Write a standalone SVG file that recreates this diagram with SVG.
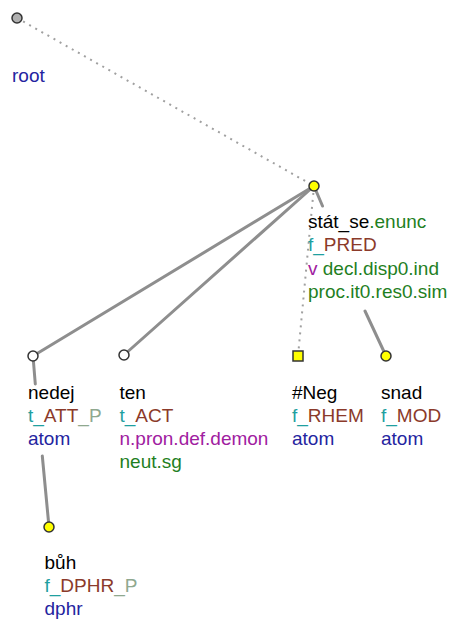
<svg xmlns="http://www.w3.org/2000/svg" width="449" height="621" viewBox="0 0 449 621">
<style>
text{font-family:"Liberation Sans",Arial,sans-serif;font-size:19px}
.edge{stroke:#8e8e8e;stroke-width:3;fill:none;stroke-linecap:round}
.dot{stroke:#a0a0a0;stroke-width:2;fill:none;stroke-dasharray:2 5}
.nd{stroke:#333;stroke-width:1.5}
.lem{fill:#000}
.tp{fill:#1fa0a0}
.fn{fill:#8b3a2a}
.pp{fill:#8fa88f}
.nt{fill:#2424a0}
.pu{fill:#a020a0}
.gr{fill:#1f7f1f}
</style>
<rect width="449" height="621" fill="#fff"/>
<g id="connectors">
<line class="dot" x1="17" y1="18" x2="314" y2="186"/>
<line class="dot" x1="314" y1="186" x2="298" y2="356"/>
<line class="edge" x1="314" y1="186" x2="33" y2="356"/>
<line class="edge" x1="314" y1="186" x2="124" y2="355"/>
<path class="edge" d="M314 186 L322.5 206 M365 311 L386 356"/>
<path class="edge" d="M33 356 L35.3 384 M42.3 456 L49 527"/>
</g>
<g id="root">
<circle class="nd" cx="17" cy="18" r="5" fill="#b0b0b0"/>
<text x="12" y="82" class="nt">root</text>
</g>
<g id="stat_se">
<circle class="nd" cx="314" cy="186" r="5" fill="#ffff00"/>
<text x="308" y="227.5"><tspan class="lem">stát_se</tspan><tspan class="gr">.enunc</tspan></text>
<text x="308" y="251"><tspan class="tp">f_</tspan><tspan class="fn">PRED</tspan></text>
<text x="308" y="274.5"><tspan class="pu">v</tspan><tspan class="gr"> decl.disp0.ind</tspan></text>
<text x="308" y="298" class="gr">proc.it0.res0.sim</text>
</g>
<g id="nedej">
<circle class="nd" cx="33" cy="356" r="5" fill="#fff"/>
<text x="28" y="398.5" class="lem">nedej</text>
<text x="28" y="421.8"><tspan class="tp">t_</tspan><tspan class="fn">ATT</tspan><tspan class="pp">_P</tspan></text>
<text x="28" y="445.1" class="nt">atom</text>
</g>
<g id="ten">
<circle class="nd" cx="124" cy="355" r="5" fill="#fff"/>
<text x="119.5" y="398.5" class="lem">ten</text>
<text x="119.5" y="421.8"><tspan class="tp">t_</tspan><tspan class="fn">ACT</tspan></text>
<text x="119.5" y="445.1" class="pu">n.pron.def.demon</text>
<text x="119.5" y="468.4" class="gr">neut.sg</text>
</g>
<g id="neg">
<rect class="nd" x="293" y="351" width="10" height="10" fill="#ffff00"/>
<text x="292" y="398.5" class="lem">#Neg</text>
<text x="292" y="421.8"><tspan class="tp">f_</tspan><tspan class="fn">RHEM</tspan></text>
<text x="292" y="445.1" class="nt">atom</text>
</g>
<g id="snad">
<circle class="nd" cx="386" cy="356" r="5" fill="#ffff00"/>
<text x="381" y="398.5" class="lem">snad</text>
<text x="381" y="421.8"><tspan class="tp">f_</tspan><tspan class="fn">MOD</tspan></text>
<text x="381" y="445.1" class="nt">atom</text>
</g>
<g id="buh">
<circle class="nd" cx="49" cy="527" r="5" fill="#ffff00"/>
<text x="44.5" y="568.5" class="lem">bůh</text>
<text x="44.5" y="591.8"><tspan class="tp">f_</tspan><tspan class="fn">DPHR</tspan><tspan class="pp">_P</tspan></text>
<text x="44.5" y="615.1" class="nt">dphr</text>
</g>
</svg>
